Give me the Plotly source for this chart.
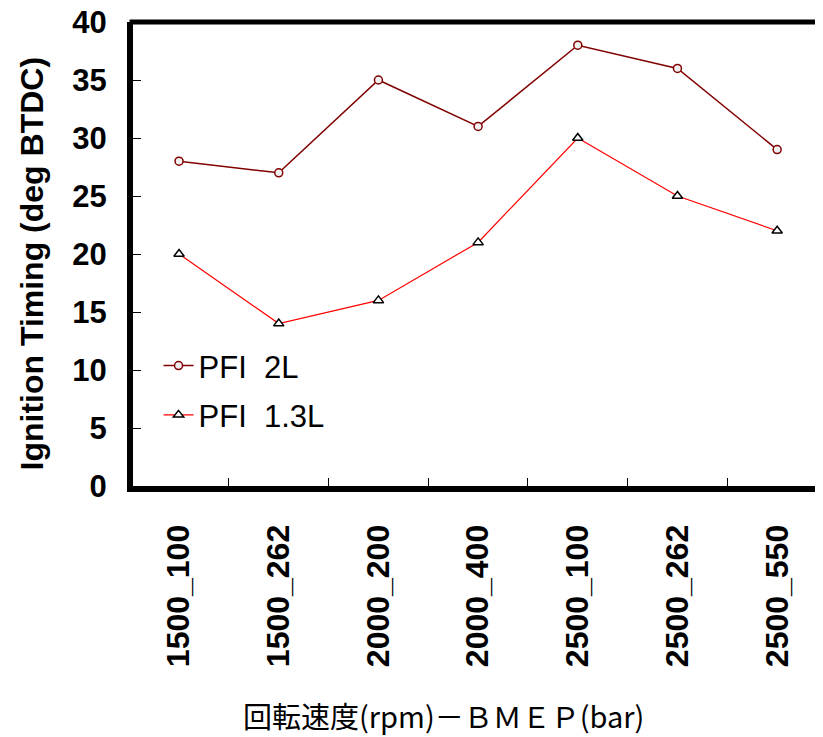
import plotly.graph_objects as go

categories = ["1500_100", "1500_262", "2000_200", "2000_400", "2500_100", "2500_262", "2500_550"]
pfi_2l = [28, 27, 35, 31, 38, 36, 29]
pfi_13l = [20, 14, 16, 21, 30, 25, 22]
y_ticks = [0, 5, 10, 15, 20, 25, 30, 35, 40]
x_title = "回転速度(rpm)－ＢＭＥＰ(bar)"
y_title = "Ignition Timing (deg BTDC)"

fig = go.Figure()
fig.add_trace(go.Scatter(
    x=categories, y=pfi_2l, name="PFI  2L", mode="lines+markers",
    line=dict(color="#800000", width=1.5),
    marker=dict(symbol="circle", size=8, color="#f0f0f0", line=dict(color="#800000", width=1.5)),
    legendgroup="a",
))
fig.add_trace(go.Scatter(
    x=categories, y=pfi_13l, name="PFI  1.3L", mode="lines+markers",
    line=dict(color="#ff0000", width=1.2),
    marker=dict(symbol="triangle-up", size=9, color="white", line=dict(color="black", width=1.5)),
    legendgroup="b",
))

fig.update_layout(
    width=823, height=737,
    margin=dict(l=125, r=8, t=14, b=259),
    paper_bgcolor="white", plot_bgcolor="white",
    font=dict(family="Liberation Sans, Arial, sans-serif", color="black"),
    showlegend=True,
    legend=dict(
        x=0.037, y=0.317, xanchor="left", yanchor="top",
        bgcolor="rgba(0,0,0,0)", font=dict(size=31, family="Liberation Sans, Arial"),
        traceorder="grouped", tracegroupgap=6,
    ),
    xaxis=dict(
        type="category", range=[-0.462, 6.46], automargin=False,
        showline=True, linecolor="black", linewidth=6,
        ticks="inside", tickson="boundaries", ticklen=8, tickwidth=1, tickcolor="black",
        tickangle=-90, tickfont=dict(size=32, family="Liberation Sans, Arial", weight="bold"),
        ticklabelstandoff=20, ticklabeloverflow="allow",
        showgrid=False, zeroline=False,
    ),
    yaxis=dict(
        range=[0, 40], tickvals=y_ticks, automargin=False,
        showline=True, linecolor="black", linewidth=6,
        ticks="inside", ticklen=8, tickwidth=1, tickcolor="black",
        tickfont=dict(size=31, family="Liberation Sans, Arial", weight="bold"),
        ticklabelstandoff=14, ticklabeloverflow="allow",
        showgrid=False, zeroline=False,
    ),
    annotations=[
        dict(text=x_title, xref="paper", yref="paper", x=0.45, y=-0.4935,
             xanchor="center", yanchor="middle", showarrow=False,
             font=dict(size=29, family="Noto Sans CJK JP", color="black")),
        dict(text=y_title, xref="paper", yref="paper", x=-0.1464, y=0.4795,
             xanchor="center", yanchor="middle", showarrow=False, textangle=-90,
             font=dict(size=32, family="Liberation Sans, Arial", weight="bold", color="black")),
    ],
    shapes=[dict(type="line", xref="paper", yref="paper", x0=-0.005, x1=1.02, y0=1, y1=1,
                 line=dict(color="black", width=5))],
)

fig.write_html("out.html")
